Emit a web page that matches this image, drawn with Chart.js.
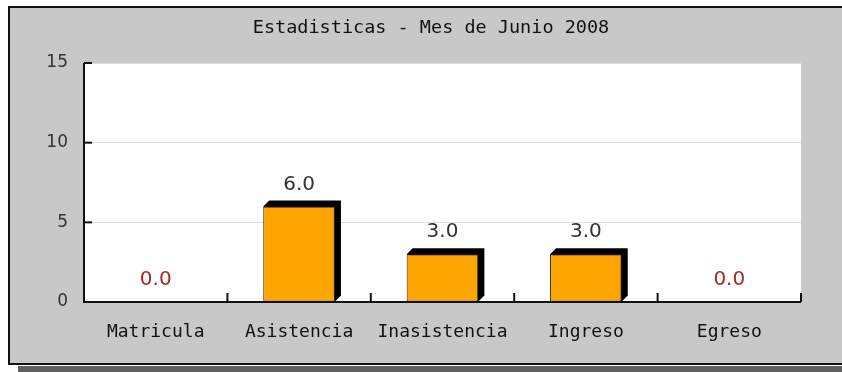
<!DOCTYPE html>
<html>
<head>
<meta charset="utf-8">
<script src="https://cdn.jsdelivr.net/npm/chart.js@4"></script>
<style>
  html, body { margin: 0; padding: 0; background: #ffffff; }
  #wrap { width: 842px; height: 372px; }
</style>
</head>
<body>
<div id="wrap"><canvas id="c" width="842" height="372"></canvas></div>
<script>
// Monthly statistics
const chartTitle = 'Estadisticas - Mes de Junio 2008';
const categories = ['Matricula', 'Asistencia', 'Inasistencia', 'Ingreso', 'Egreso'];
const values = [0, 6, 3, 3, 0];
const yTicks = [0, 5, 10, 15];

const MONO = '"DejaVu Sans Mono", "Liberation Mono", monospace';
const SANS = '"DejaVu Sans", "Liberation Sans", sans-serif';

// Gray panel, frame, shadow and title behind the chart
const panelPlugin = {
  id: 'panel',
  beforeDraw(chart) {
    const ctx = chart.ctx;
    ctx.save();
    ctx.fillStyle = '#ffffff';
    ctx.fillRect(0, 0, chart.width, chart.height);
    // drop shadow
    ctx.fillStyle = '#606060';
    ctx.fillRect(18, 366, chart.width - 18, 6);
    // panel
    ctx.fillStyle = '#c8c8c8';
    ctx.fillRect(9, 7, chart.width, 357);
    ctx.strokeStyle = '#111111';
    ctx.lineWidth = 2;
    ctx.strokeRect(9, 7, chart.width + 10, 357);
    // white plot area
    const a = chart.chartArea;
    ctx.fillStyle = '#ffffff';
    ctx.fillRect(a.left, a.top, a.right - a.left, a.bottom - a.top);
    // title
    ctx.fillStyle = '#111111';
    ctx.font = '18.5px ' + MONO;
    ctx.textAlign = 'center';
    ctx.textBaseline = 'middle';
    ctx.fillText(chartTitle, 431, 28);
    ctx.restore();
  }
};

// Black extruded sides behind each bar, axes, ticks and value labels
const depthPlugin = {
  id: 'depth',
  beforeDatasetsDraw(chart) {
    const ctx = chart.ctx;
    const d = 6;
    ctx.save();
    chart.getDatasetMeta(0).data.forEach((bar, i) => {
      if (!values[i]) return;
      const half = bar.width / 2;
      const l = bar.x - half, r = bar.x + half, t = bar.y, b = bar.base;
      ctx.fillStyle = '#000000';
      ctx.beginPath();
      ctx.moveTo(l, t);
      ctx.lineTo(l + d, t - d);
      ctx.lineTo(r + d, t - d);
      ctx.lineTo(r + d, b - d);
      ctx.lineTo(r, b);
      ctx.closePath();
      ctx.fill();
    });
    ctx.restore();
  },
  afterDatasetsDraw(chart) {
    const ctx = chart.ctx;
    const a = chart.chartArea;
    const xs = chart.scales.x, ys = chart.scales.y;
    ctx.save();
    // axes
    ctx.strokeStyle = '#111111';
    ctx.lineWidth = 2;
    ctx.beginPath();
    ctx.moveTo(a.left, a.top);
    ctx.lineTo(a.left, a.bottom);
    ctx.lineTo(a.right, a.bottom);
    ctx.stroke();
    // y ticks pointing inward
    yTicks.forEach(v => {
      const y = ys.getPixelForValue(v);
      ctx.beginPath();
      ctx.moveTo(a.left, y);
      ctx.lineTo(a.left + 8, y);
      ctx.stroke();
    });
    // category boundary ticks pointing up
    const step = xs.getPixelForValue(1) - xs.getPixelForValue(0);
    for (let i = 0; i < categories.length; i++) {
      const x = xs.getPixelForValue(i) + step / 2;
      ctx.beginPath();
      ctx.moveTo(x, a.bottom);
      ctx.lineTo(x, a.bottom - 9);
      ctx.stroke();
    }
    // value labels
    ctx.font = '20px ' + SANS;
    ctx.textAlign = 'center';
    ctx.textBaseline = 'middle';
    chart.getDatasetMeta(0).data.forEach((bar, i) => {
      ctx.fillStyle = values[i] ? '#333333' : '#a52a2a';
      ctx.fillText(values[i].toFixed(1), bar.x, bar.y - 22);
    });
    ctx.restore();
  }
};

new Chart(document.getElementById('c'), {
  type: 'bar',
  data: {
    labels: categories,
    datasets: [{
      data: values,
      backgroundColor: '#ffa500',
      borderColor: '#222222',
      borderWidth: 1,
      borderSkipped: false,
      categoryPercentage: 1,
      barPercentage: 0.5
    }]
  },
  options: {
    responsive: false,
    animation: false,
    devicePixelRatio: 1,
    layout: { padding: { left: 0, top: 63, right: 41, bottom: 0 } },
    plugins: { legend: { display: false }, title: { display: false }, tooltip: { enabled: false } },
    scales: {
      x: {
        offset: true,
        grid: { display: false, drawTicks: false },
        border: { display: false },
        ticks: {
          color: '#111111',
          font: { family: MONO, size: 18 },
          padding: 20,
          maxRotation: 0,
          autoSkip: false
        },
        afterFit(scale) { scale.height = 70; }
      },
      y: {
        min: 0,
        max: 15,
        afterBuildTicks(scale) { scale.ticks = yTicks.map(v => ({ value: v })); },
        grid: { color: '#dedede', lineWidth: 1, drawTicks: false },
        border: { display: false },
        ticks: {
          color: '#333333',
          font: { family: SANS, size: 17 },
          padding: 16
        },
        afterFit(scale) { scale.width = 84; }
      }
    }
  },
  plugins: [panelPlugin, depthPlugin]
});
</script>
</body>
</html>
